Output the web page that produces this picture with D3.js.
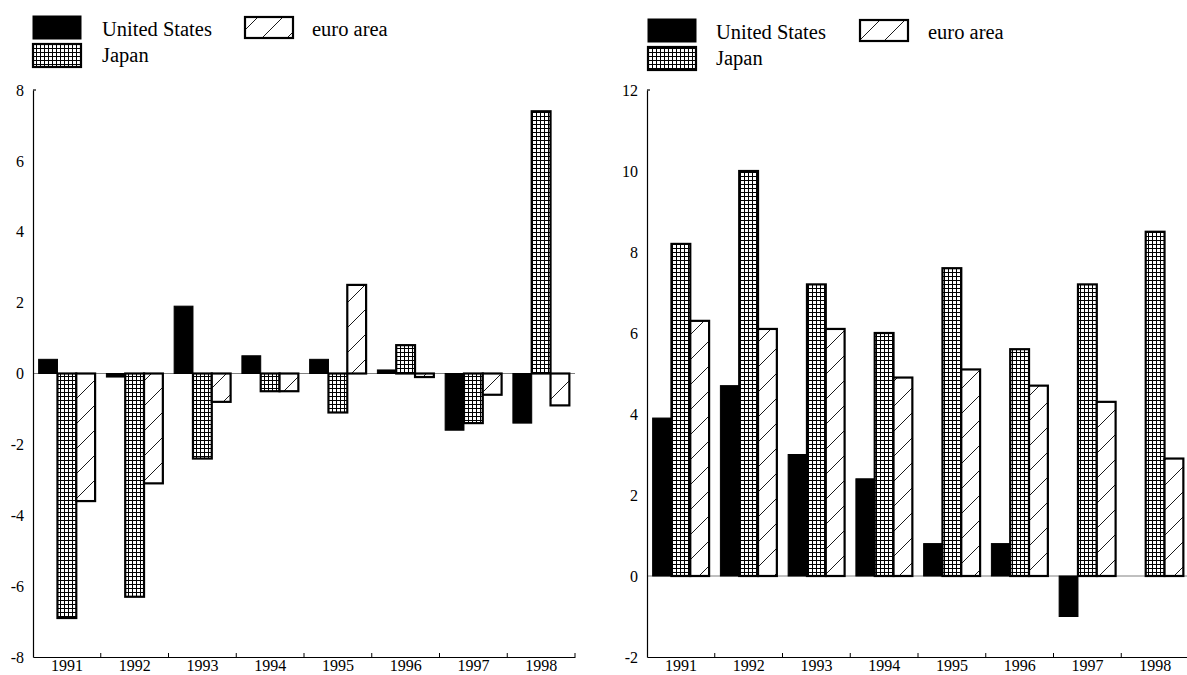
<!DOCTYPE html>
<html>
<head>
<meta charset="utf-8">
<script src="https://cdn.jsdelivr.net/npm/d3@7"></script>
<style>
  html, body { margin: 0; padding: 0; background: #fff; }
  svg { display: block; }
  text { font-family: 'Liberation Serif', 'Times New Roman', serif; fill: #000; }
</style>
</head>
<body>
<svg id="chart" width="1187" height="675"></svg>
<script>
// ---- Data ----
const years = ["1991", "1992", "1993", "1994", "1995", "1996", "1997", "1998"];
const seriesNames = ["United States", "Japan", "euro area"];

const leftUS    = [0.4, -0.1, 1.9, 0.5, 0.4, 0.1, -1.6, -1.4];
const leftJapan = [-6.9, -6.3, -2.4, -0.5, -1.1, 0.8, -1.4, 7.4];
const leftEuro  = [-3.6, -3.1, -0.8, -0.5, 2.5, -0.1, -0.6, -0.9];

const rightUS    = [3.9, 4.7, 3.0, 2.4, 0.8, 0.8, -1.0, null];
const rightJapan = [8.2, 10.0, 7.2, 6.0, 7.6, 5.6, 7.2, 8.5];
const rightEuro  = [6.3, 6.1, 6.1, 4.9, 5.1, 4.7, 4.3, 2.9];

const leftTicks  = [-8, -6, -4, -2, 0, 2, 4, 6, 8];
const rightTicks = [-2, 0, 2, 4, 6, 8, 10, 12];

// ---- Setup ----
const FONT = "'Liberation Serif', 'Times New Roman', serif";
const svg = d3.select("#chart");
const defs = svg.append("defs");

// crosshatch (Japan)
const grid = defs.append("pattern").attr("id", "grid")
  .attr("patternUnits", "userSpaceOnUse").attr("width", 4).attr("height", 4);
grid.append("rect").attr("width", 4).attr("height", 4).attr("fill", "#fff");
grid.append("path").attr("d", "M0,0.5 H4 M0.5,0 V4")
  .attr("stroke", "#000").attr("stroke-width", 1).attr("fill", "none");

// diagonal hatch (euro area)
const hatch = defs.append("pattern").attr("id", "hatch")
  .attr("patternUnits", "userSpaceOnUse").attr("width", 25).attr("height", 25);
hatch.append("rect").attr("width", 25).attr("height", 25).attr("fill", "#fff");
hatch.append("path").attr("d", "M0,25 L25,0 M-5,5 L5,-5 M20,30 L30,20")
  .attr("stroke", "#000").attr("stroke-width", 0.9).attr("fill", "none");

const fills = {"United States": "#000", "Japan": "url(#grid)", "euro area": "url(#hatch)"};

function drawPanel(cfg) {
  const g = svg.append("g");
  const x0 = d3.scaleBand().domain(years).range([cfg.x0, cfg.x1]).padding(0);
  const x1 = d3.scaleBand().domain(seriesNames).range([0, x0.bandwidth()])
    .paddingInner(0).paddingOuter(0.3);
  const y = d3.scaleLinear().domain([cfg.ticks[0], cfg.ticks[cfg.ticks.length - 1]])
    .range([cfg.yBottom, cfg.yTop]);

  const data = [];
  years.forEach((yr, i) => {
    seriesNames.forEach((s, k) => {
      const v = cfg.values[k][i];
      if (v !== null && v !== undefined) data.push({year: yr, series: s, value: v});
    });
  });

  // zero line
  g.append("line")
    .attr("x1", cfg.x0).attr("x2", cfg.x1)
    .attr("y1", y(0)).attr("y2", y(0))
    .attr("stroke", "#808080").attr("stroke-width", 1);

  // bars
  g.selectAll("rect.bar").data(data).enter().append("rect")
    .attr("class", "bar")
    .attr("x", d => x0(d.year) + x1(d.series))
    .attr("width", x1.bandwidth())
    .attr("y", d => y(Math.max(0, d.value)))
    .attr("height", d => Math.abs(y(d.value) - y(0)))
    .attr("fill", d => fills[d.series])
    .attr("stroke", "#000")
    .attr("stroke-width", d => d.series === "United States" ? 1 : 2.2);

  // y axis
  const yAxis = d3.axisLeft(y).tickValues(cfg.ticks).tickSize(0).tickPadding(9)
    .tickFormat(d => String(d));
  const ya = g.append("g").attr("transform", `translate(${cfg.x0},0)`).call(yAxis);
  ya.attr("font-family", FONT).attr("font-size", 16);
  ya.select(".domain").attr("stroke", "#000").attr("stroke-width", 1.2);
  ya.selectAll("text").style("font-size", "16px").style("font-family", FONT);
  // small hook at top
  g.append("line").attr("x1", cfg.x0).attr("x2", cfg.x0 + 3)
    .attr("y1", cfg.yTop).attr("y2", cfg.yTop).attr("stroke", "#000").attr("stroke-width", 1.2);

  // x axis
  const xAxis = d3.axisBottom(x0).tickSize(0).tickPadding(3);
  const xa = g.append("g").attr("transform", `translate(0,${cfg.yBottom})`).call(xAxis);
  xa.attr("font-family", FONT).attr("font-size", 16);
  xa.select(".domain").attr("stroke", "#000").attr("stroke-width", 1.2);
  xa.selectAll("text").style("font-size", "16px").style("font-family", FONT);
  // boundary ticks (pointing up)
  const bounds = years.slice(1).map(yr => x0(yr)).concat([cfg.x1]);
  g.selectAll("line.btick").data(bounds).enter().append("line")
    .attr("class", "btick")
    .attr("x1", d => d).attr("x2", d => d)
    .attr("y1", cfg.yBottom).attr("y2", cfg.yBottom - 4)
    .attr("stroke", "#000").attr("stroke-width", 1);

  // legend
  const L = cfg.legend;
  const items = [
    {name: "United States", sx: L.sx, sy: L.sy, tx: L.tx, ty: L.ty},
    {name: "Japan", sx: L.sx, sy: L.sy + 28, tx: L.tx, ty: L.ty + 26},
    {name: "euro area", sx: L.ex, sy: L.sy + 1, tx: L.etx, ty: L.ty, h: 21}
  ];
  const lg = g.append("g");
  items.forEach(it => {
    lg.append("rect").attr("x", it.sx).attr("y", it.sy)
      .attr("width", 48).attr("height", it.h || 23)
      .attr("fill", fills[it.name]).attr("stroke", "#000")
      .attr("stroke-width", it.name === "United States" ? 1 : 2.2);
    lg.append("text").attr("x", it.tx).attr("y", it.ty)
      .style("font-size", "20.5px").style("font-family", FONT).text(it.name);
  });
}

drawPanel({
  x0: 33, x1: 575, yTop: 90, yBottom: 657,
  ticks: leftTicks, values: [leftUS, leftJapan, leftEuro],
  legend: {sx: 33, sy: 16, tx: 102, ty: 36, ex: 245, etx: 312}
});

drawPanel({
  x0: 647, x1: 1189, yTop: 90, yBottom: 657,
  ticks: rightTicks, values: [rightUS, rightJapan, rightEuro],
  legend: {sx: 648, sy: 19, tx: 716, ty: 39, ex: 860, etx: 928}
});
</script>
</body>
</html>
